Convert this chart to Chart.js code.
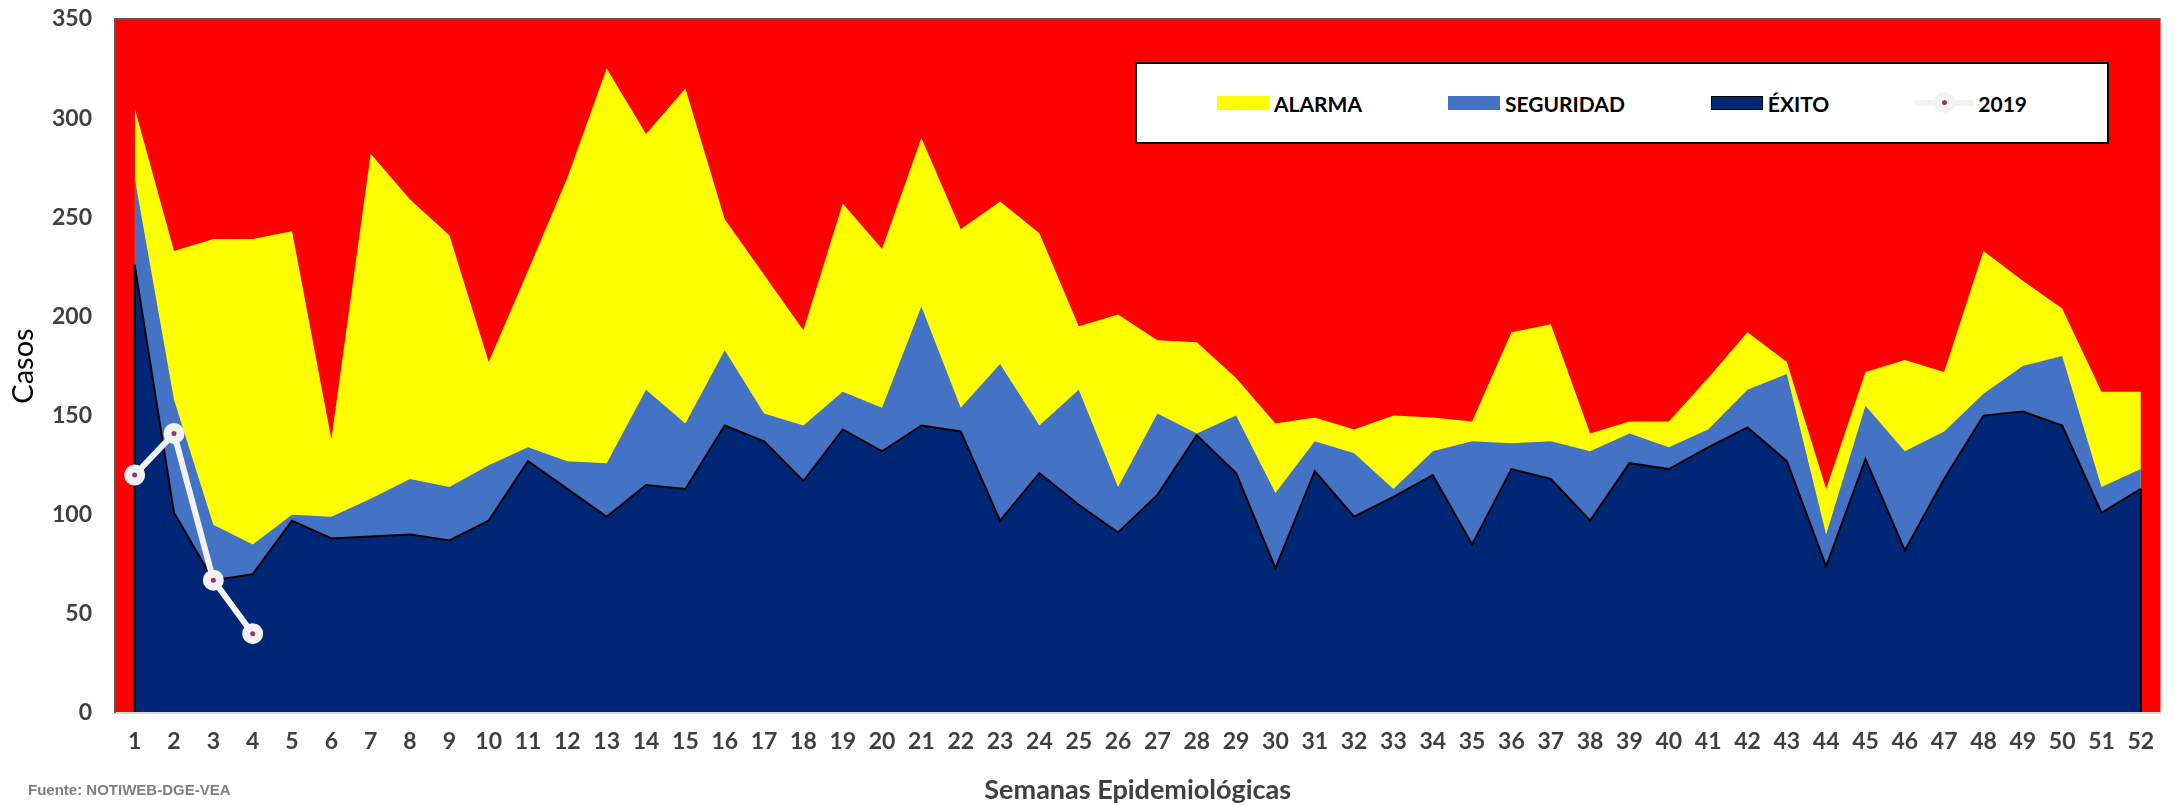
<!DOCTYPE html>
<html>
<head>
<meta charset="utf-8">
<script src="https://cdn.jsdelivr.net/npm/chart.js@4.4.1/dist/chart.umd.min.js"></script>
<style>
  body { margin: 0; background: #fff; }
  #wrap { position: relative; width: 2175px; height: 806px; }
  #leyenda {
    position: absolute; left: 1135px; top: 62px; width: 970px; height: 78px;
    background: #fff; border: 2px solid #000;
    display: flex; align-items: center; justify-content: center; gap: 86px;
    font-family: Lato, sans-serif; font-weight: bold; font-size: 21px; color: #000;
  }
  .item { display: flex; align-items: center; }
  .caja { width: 52px; height: 14px; margin-right: 5px; box-sizing: border-box; }
  .marca { position: relative; width: 59px; height: 22px; margin-right: 4px; }
  .marca .linea { position: absolute; left: 0; right: 0; top: 8px; height: 6px; border-radius: 3px; }
  .marca .circ { position: absolute; left: 19px; top: 0; width: 21px; height: 21px; border-radius: 50%; }
  .marca .punto { position: absolute; left: 27px; top: 8px; width: 5px; height: 5px; border-radius: 50%; }
  #fuente {
    position: absolute; left: 28px; top: 781px;
    font-family: "Liberation Sans Narrow", "Liberation Sans", sans-serif; font-weight: bold;
    font-size: 15px; color: #7f7f7f;
  }
</style>
</head>
<body>
<div id="wrap">
  <canvas id="canal" width="2175" height="806"></canvas>
  <div id="leyenda"></div>
  <div id="fuente">Fuente: NOTIWEB-DGE-VEA</div>
</div>
<script>
// semanas epidemiológicas
const semanas = ['1','2','3','4','5','6','7','8','9','10','11','12','13','14','15','16','17','18','19','20',
  '21','22','23','24','25','26','27','28','29','30','31','32','33','34','35','36','37','38','39','40',
  '41','42','43','44','45','46','47','48','49','50','51','52'];

// límites del canal endémico (casos)
const alarma = [305, 233, 239, 239, 243, 138, 282, 259, 241, 177, 223, 270, 325, 292, 315, 249, 221, 193, 257, 234,
  290, 244, 258, 242, 195, 201, 188, 187, 169, 146, 149, 143, 150, 149, 147, 192, 196, 141, 147, 147,
  169, 192, 177, 113, 172, 178, 172, 233, 218, 204, 162, 162];
const seguridad = [270, 158, 95, 85, 100, 99, 108, 118, 114, 125, 134, 127, 126, 163, 146, 183, 151, 145, 162, 154,
  205, 154, 176, 145, 163, 114, 151, 141, 150, 111, 137, 131, 113, 132, 137, 136, 137, 132, 141, 134,
  143, 163, 171, 90, 155, 132, 142, 161, 175, 180, 114, 123];
const exito = [226, 101, 67, 70, 97, 88, 89, 90, 87, 97, 127, 113, 99, 115, 113, 145, 137, 117, 143, 132,
  145, 142, 97, 121, 105, 91, 110, 140, 121, 73, 122, 99, 109, 120, 85, 123, 118, 97, 126, 123,
  134, 144, 127, 74, 128, 82, 118, 150, 152, 145, 101, 113];

// casos notificados 2019
const casos2019 = [120, 141, 67, 40];

const yTicks = [0, 50, 100, 150, 200, 250, 300, 350];

Chart.defaults.font.family = 'Lato, sans-serif';

const fondoPlot = {
  id: 'fondoPlot',
  beforeDraw(chart) {
    const { ctx, chartArea: a } = chart;
    ctx.save();
    ctx.fillStyle = '#ff0000';
    ctx.fillRect(a.left, a.top, a.right - a.left, a.bottom - a.top);
    ctx.restore();
  },
  afterDatasetDraw(chart, args) {
    // bordes verticales del área ÉXITO
    if (chart.data.datasets[args.index].label !== 'ÉXITO') return;
    const { ctx } = chart;
    const pts = args.meta.data;
    const base = chart.scales.y.getPixelForValue(0);
    const ultimo = pts[pts.length - 1];
    ctx.save();
    ctx.strokeStyle = '#000';
    ctx.lineWidth = 2;
    ctx.beginPath();
    ctx.moveTo(pts[0].x, pts[0].y);
    ctx.lineTo(pts[0].x, base);
    ctx.moveTo(ultimo.x, ultimo.y);
    ctx.lineTo(ultimo.x, base);
    ctx.stroke();
    ctx.restore();
  },
  afterDraw(chart) {
    const { ctx, chartArea: a } = chart;
    ctx.save();
    ctx.strokeStyle = '#595959';
    ctx.lineWidth = 2;
    ctx.beginPath();
    ctx.moveTo(a.left, a.bottom);
    ctx.lineTo(a.left, a.top);
    ctx.lineTo(a.right, a.top);
    ctx.stroke();
    ctx.restore();
  }
};

const leyendaHtml = {
  id: 'leyendaHtml',
  afterUpdate(chart) {
    const box = document.getElementById('leyenda');
    box.innerHTML = '';
    chart.data.datasets.forEach(ds => {
      const item = document.createElement('div');
      item.className = 'item';
      const marca = document.createElement('span');
      if (ds.type === 'line' && !ds.fill) {
        marca.className = 'marca';
        marca.innerHTML = '<span class="linea" style="background:' + ds.borderColor + '"></span>' +
          '<span class="circ" style="background:' + ds.pointBorderColor + '"></span>' +
          '<span class="punto" style="background:' + ds.pointBackgroundColor + '"></span>';
      } else {
        marca.className = 'caja';
        marca.style.background = ds.backgroundColor;
        if (ds.label === 'ÉXITO') marca.style.border = '1.5px solid #000';
      }
      const txt = document.createElement('span');
      txt.textContent = ds.label;
      item.appendChild(marca);
      item.appendChild(txt);
      box.appendChild(item);
    });
  }
};

const area = (label, data, color, order, extra) => Object.assign({
  type: 'line', label, data, order,
  backgroundColor: color, borderColor: 'rgba(0,0,0,0)', borderWidth: 1,
  fill: 'origin', pointRadius: 0, tension: 0
}, extra || {});

new Chart(document.getElementById('canal'), {
  data: {
    labels: semanas,
    datasets: [
      area('ALARMA', alarma, '#ffff00', 3),
      area('SEGURIDAD', seguridad, '#4472c4', 2),
      area('ÉXITO', exito, '#002776', 1, { borderColor: '#000', borderWidth: 2 }),
      {
        type: 'line', label: '2019', data: casos2019, order: 0, fill: false,
        borderColor: '#f2f2f2', borderWidth: 6, tension: 0,
        pointRadius: 6.5, pointBorderWidth: 8,
        pointBorderColor: '#f2f2f2', pointBackgroundColor: '#8e3b63'
      }
    ]
  },
  options: {
    responsive: false,
    animation: false,
    devicePixelRatio: 1,
    layout: { padding: { top: 19, right: 1, bottom: 0, left: 0 } },
    plugins: {
      legend: { display: false },
      tooltip: { enabled: false }
    },
    scales: {
      x: {
        type: 'category',
        offset: true,
        grid: { display: false, drawTicks: false },
        border: { display: true, color: '#d9d9d9', width: 2, z: 1 },
        ticks: { color: '#404040', font: { size: 23, weight: 'bold' }, padding: 15, maxRotation: 0, autoSkip: false },
        title: {
          display: true, text: 'Semanas Epidemiológicas', color: '#404040',
          font: { size: 27, weight: 'bold' }, padding: { top: 0, bottom: 0 }
        },
        afterFit: s => { s.height = 93; }
      },
      y: {
        min: 0, max: 350,
        grid: { display: false, drawTicks: false },
        border: { display: false },
        afterBuildTicks: s => { s.ticks = yTicks.map(v => ({ value: v })); },
        ticks: { color: '#404040', font: { size: 23, weight: 'bold' }, padding: 23 },
        title: {
          display: true, text: 'Casos', color: '#000',
          font: { size: 29 }, padding: { top: 6, bottom: 0 }
        },
        afterFit: s => {
          s.width = 115;
          s.paddingTop = 0;
          s.paddingBottom = 0;
        }
      }
    }
  },
  plugins: [fondoPlot, leyendaHtml]
});
</script>
</body>
</html>
